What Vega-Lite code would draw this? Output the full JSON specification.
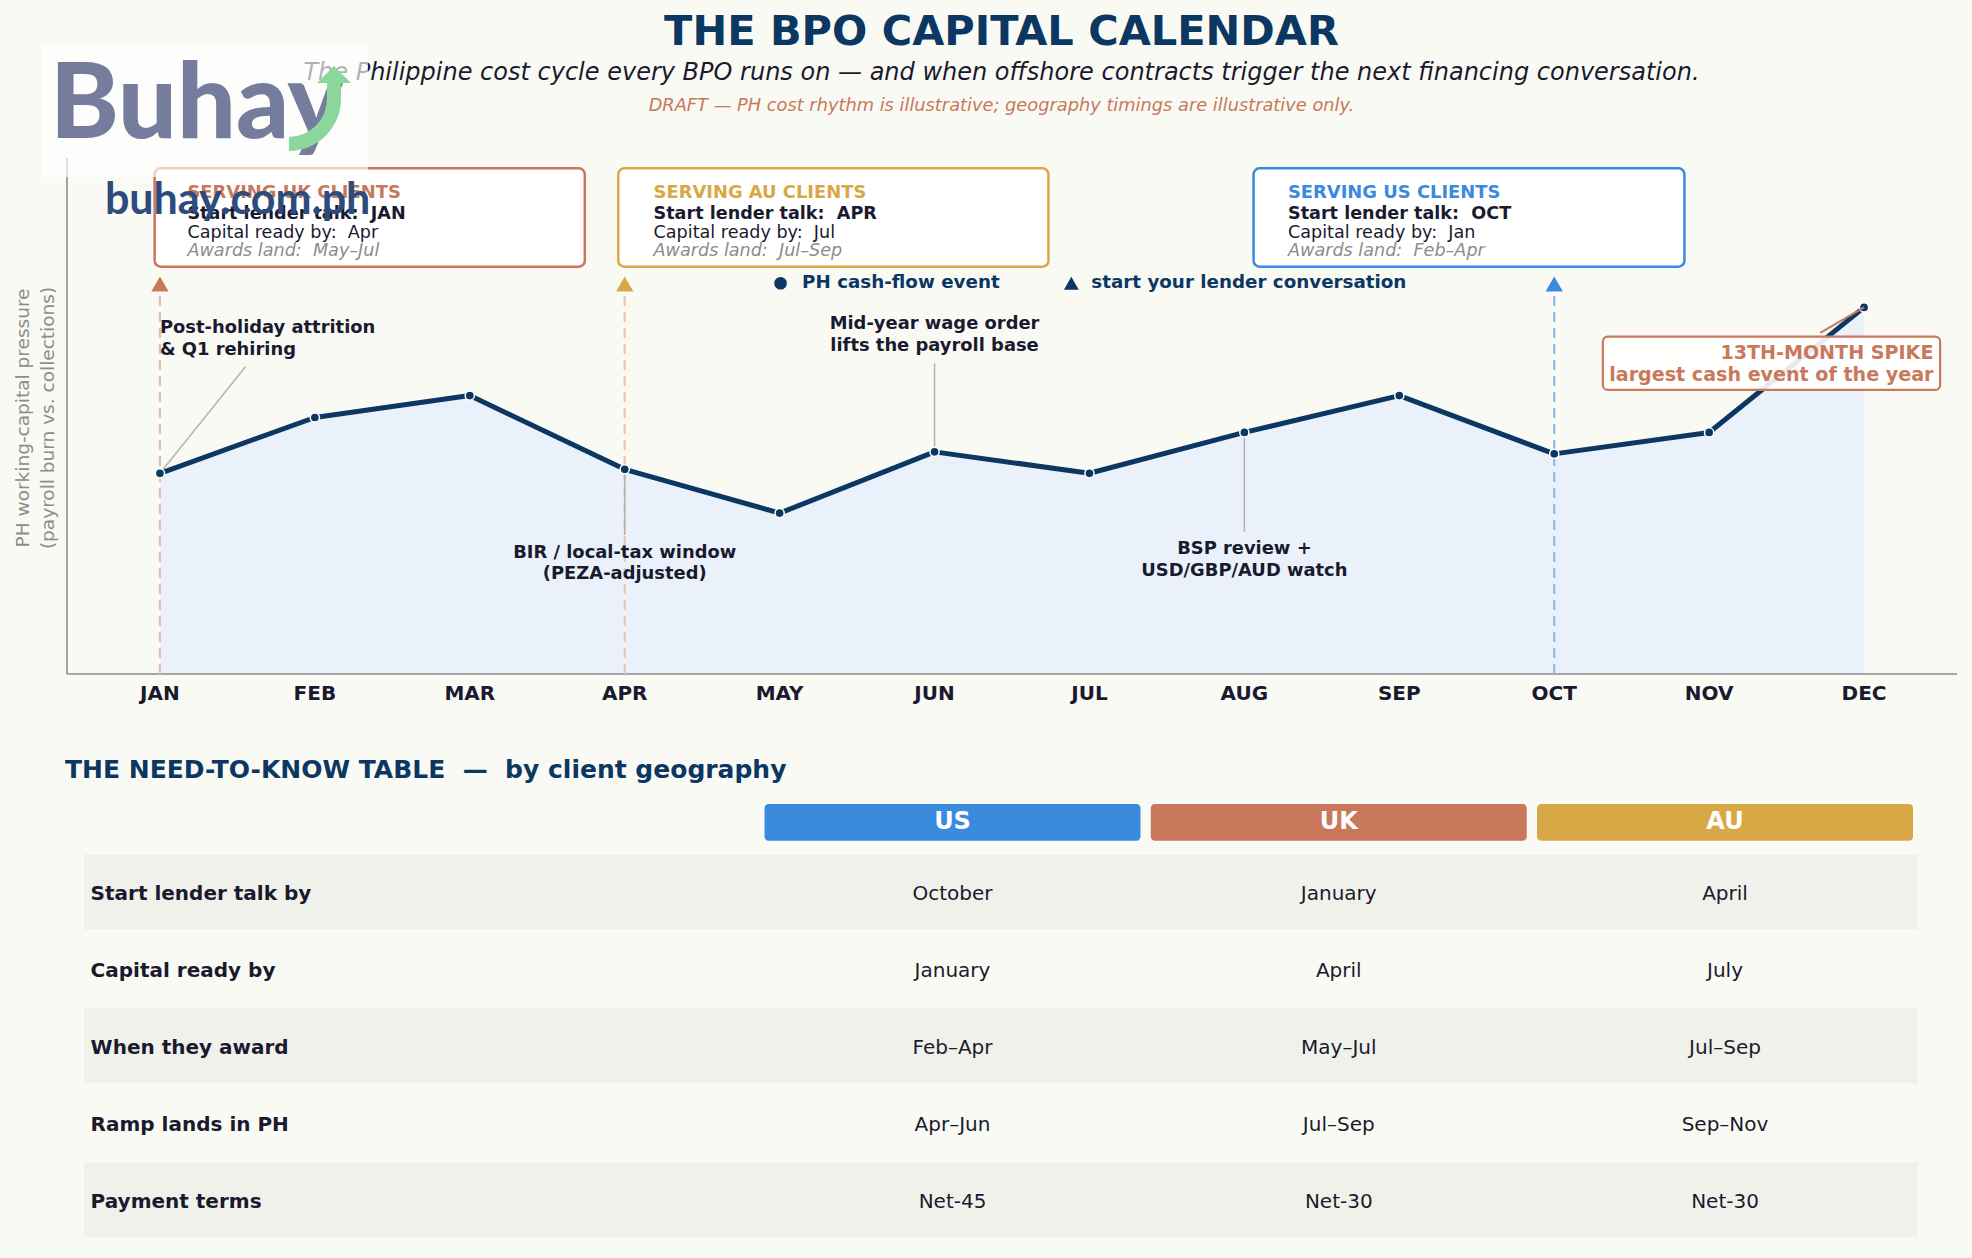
{
"$schema":"https://vega.github.io/schema/vega-lite/v6.json",
"width":1890,"height":516,
"autosize":{"type":"none"},
"padding":{"left":67,"top":158,"right":15,"bottom":584},
"background":"#fafaf5",
"config":{"view":{"stroke":null},"font":"DejaVu Sans","text":{"font":"DejaVu Sans"}},
"datasets":{
 "months":[{"mon":"JAN","m":1,"v":40.3},{"mon":"FEB","m":2,"v":51.5},{"mon":"MAR","m":3,"v":55.9},{"mon":"APR","m":4,"v":41.1},{"mon":"MAY","m":5,"v":32.3},{"mon":"JUN","m":6,"v":44.6},{"mon":"JUL","m":7,"v":40.3},{"mon":"AUG","m":8,"v":48.5},{"mon":"SEP","m":9,"v":55.9},{"mon":"OCT","m":10,"v":44.2},{"mon":"NOV","m":11,"v":48.5},{"mon":"DEC","m":12,"v":73.6}],
 "lender":[{"geo":"UK","mon":"JAN","m":1},{"geo":"AU","mon":"APR","m":4},{"geo":"US","mon":"OCT","m":10}],
 "table":[
  {"n":1,"item":"Start lender talk by","US":"October","UK":"January","AU":"April"},
  {"n":2,"item":"Capital ready by","US":"January","UK":"April","AU":"July"},
  {"n":3,"item":"When they award","US":"Feb–Apr","UK":"May–Jul","AU":"Jul–Sep"},
  {"n":4,"item":"Ramp lands in PH","US":"Apr–Jun","UK":"Jul–Sep","AU":"Sep–Nov"},
  {"n":5,"item":"Payment terms","US":"Net-45","UK":"Net-30","AU":"Net-30"}],
 "geos":[{"geo":"US","c":1},{"geo":"UK","c":2},{"geo":"AU","c":3}]
},
"data":{"values":[{}]},
"layer":[
 {"layer":[
  {"data":{"name":"months"},"mark":{"type":"area","color":"#eaf1fa","opacity":1},
   "encoding":{
    "x":{"field":"m","type":"quantitative","scale":{"domain":[0.4,12.6],"nice":false,"zero":false},"axis":null},
    "y":{"field":"v","type":"quantitative","scale":{"domain":[0,103.6],"nice":false,"zero":false},"axis":null}}},
  {"mark":{"type":"rule","color":"#8c8c8c","strokeWidth":1.6},"encoding":{"x":{"datum":0.4,"type":"quantitative","scale":{"domain":[0.4,12.6],"nice":false,"zero":false},"axis":null},"x2":{"datum":12.6},"y":{"datum":0,"type":"quantitative","scale":{"domain":[0,103.6],"nice":false,"zero":false},"axis":null}}},
  {"mark":{"type":"rule","color":"#8c8c8c","strokeWidth":1.6},"encoding":{"x":{"datum":0.4,"type":"quantitative","scale":{"domain":[0.4,12.6],"nice":false,"zero":false},"axis":null},"y":{"datum":0,"type":"quantitative","scale":{"domain":[0,103.6],"nice":false,"zero":false},"axis":null},"y2":{"datum":103.6}}},
  {"data":{"name":"months"},"mark":{"type":"text","align":"center","baseline":"middle","fontSize":20,"fontWeight":"bold","color":"#1a1a2e"},
   "encoding":{"x":{"field":"m","type":"quantitative","scale":{"domain":[0.4,12.6],"nice":false,"zero":false},"axis":null},"y":{"datum":-4.0,"type":"quantitative","scale":{"domain":[0,103.6],"nice":false,"zero":false},"axis":null},"text":{"field":"mon"}}},
  {"mark":{"type":"text","text":"PH working-capital pressure","angle":270,"align":"center","baseline":"middle","fontSize":18.5,"color":"#8c8c8c"},"encoding":{"x":{"datum":0.113,"type":"quantitative","scale":{"domain":[0.4,12.6],"nice":false,"zero":false},"axis":null},"y":{"datum":51.4,"type":"quantitative","scale":{"domain":[0,103.6],"nice":false,"zero":false},"axis":null}}},
  {"mark":{"type":"text","text":"(payroll burn vs. collections)","angle":270,"align":"center","baseline":"middle","fontSize":18.5,"color":"#8c8c8c"},"encoding":{"x":{"datum":0.2757,"type":"quantitative","scale":{"domain":[0.4,12.6],"nice":false,"zero":false},"axis":null},"y":{"datum":51.4,"type":"quantitative","scale":{"domain":[0,103.6],"nice":false,"zero":false},"axis":null}}},
  {"data":{"name":"lender"},"mark":{"type":"rule","strokeDash":[10,6],"strokeWidth":2.2},
   "encoding":{"x":{"field":"m","type":"quantitative","scale":{"domain":[0.4,12.6],"nice":false,"zero":false},"axis":null},
    "y":{"datum":0,"type":"quantitative","scale":{"domain":[0,103.6],"nice":false,"zero":false},"axis":null},"y2":{"datum":76.1},
    "stroke":{"field":"geo","type":"nominal","scale":{"domain":["US","UK","AU"],"range":["#8fbbea","#e9bba6","#ebc6a8"]},"legend":null}}},
  {"mark":{"type":"rule","color":"#b3b3b3","strokeWidth":1.5},"encoding":{"x":{"datum":1.552,"type":"quantitative","scale":{"domain":[0.4,12.6],"nice":false,"zero":false},"axis":null},"x2":{"datum":1.0},"y":{"datum":61.7,"type":"quantitative","scale":{"domain":[0,103.6],"nice":false,"zero":false},"axis":null},"y2":{"datum":40.3}}},
  {"mark":{"type":"rule","color":"#b3b3b3","strokeWidth":1.5},"encoding":{"x":{"datum":6,"type":"quantitative","scale":{"domain":[0.4,12.6],"nice":false,"zero":false},"axis":null},"y":{"datum":62.39,"type":"quantitative","scale":{"domain":[0,103.6],"nice":false,"zero":false},"axis":null},"y2":{"datum":44.6}}},
  {"mark":{"type":"rule","color":"#b3b3b3","strokeWidth":1.5},"encoding":{"x":{"datum":4,"type":"quantitative","scale":{"domain":[0.4,12.6],"nice":false,"zero":false},"axis":null},"y":{"datum":41.1,"type":"quantitative","scale":{"domain":[0,103.6],"nice":false,"zero":false},"axis":null},"y2":{"datum":27.9}}},
  {"mark":{"type":"rule","color":"#b3b3b3","strokeWidth":1.5},"encoding":{"x":{"datum":8,"type":"quantitative","scale":{"domain":[0.4,12.6],"nice":false,"zero":false},"axis":null},"y":{"datum":48.5,"type":"quantitative","scale":{"domain":[0,103.6],"nice":false,"zero":false},"axis":null},"y2":{"datum":28.57}}},
  {"data":{"name":"months"},"mark":{"type":"line","color":"#0c3762","strokeWidth":5,"strokeJoin":"round"},
   "encoding":{"x":{"field":"m","type":"quantitative","scale":{"domain":[0.4,12.6],"nice":false,"zero":false},"axis":null},"y":{"field":"v","type":"quantitative","scale":{"domain":[0,103.6],"nice":false,"zero":false},"axis":null}}},
  {"data":{"name":"months"},"mark":{"type":"point","shape":"circle","filled":true,"color":"#0c3762","stroke":"#ffffff","strokeWidth":1.5,"size":85,"opacity":1},
   "encoding":{"x":{"field":"m","type":"quantitative","scale":{"domain":[0.4,12.6],"nice":false,"zero":false},"axis":null},"y":{"field":"v","type":"quantitative","scale":{"domain":[0,103.6],"nice":false,"zero":false},"axis":null}}},
  {"data":{"name":"lender"},"mark":{"type":"point","shape":"triangle-up","filled":true,"size":300,"opacity":1},
   "encoding":{"x":{"field":"m","type":"quantitative","scale":{"domain":[0.4,12.6],"nice":false,"zero":false},"axis":null},"y":{"datum":78.3,"type":"quantitative","scale":{"domain":[0,103.6],"nice":false,"zero":false},"axis":null},
    "color":{"field":"geo","type":"nominal","scale":{"domain":["US","UK","AU"],"range":["#3a8ade","#c9785c","#d9a846"]},"legend":null}}},
  {"layer":[
   {"mark":{"type":"rect","fill":"#ffffff","stroke":"#c9785c","strokeWidth":2.5,"cornerRadius":6},"encoding":{"x":{"datum":0.9658,"type":"quantitative","scale":{"domain":[0.4,12.6],"nice":false,"zero":false},"axis":null},"x2":{"datum":3.7424},"y":{"datum":101.53,"type":"quantitative","scale":{"domain":[0,103.6],"nice":false,"zero":false},"axis":null},"y2":{"datum":81.79}}},
   {"mark":{"type":"text","text":"SERVING UK CLIENTS","align":"left","baseline":"middle","fontSize":17.9,"fontWeight":"bold","color":"#c9785c"},"encoding":{"x":{"datum":1.1775,"type":"quantitative","scale":{"domain":[0.4,12.6],"nice":false,"zero":false},"axis":null},"y":{"datum":96.6,"type":"quantitative","scale":{"domain":[0,103.6],"nice":false,"zero":false},"axis":null}}},
   {"mark":{"type":"text","text":"Start lender talk:\u00a0 JAN","align":"left","baseline":"middle","fontSize":17.6,"fontWeight":"bold","color":"#1a1a2e"},"encoding":{"x":{"datum":1.1775,"type":"quantitative","scale":{"domain":[0.4,12.6],"nice":false,"zero":false},"axis":null},"y":{"datum":92.4,"type":"quantitative","scale":{"domain":[0,103.6],"nice":false,"zero":false},"axis":null}}},
   {"mark":{"type":"text","text":"Capital ready by:\u00a0 Apr","align":"left","baseline":"middle","fontSize":17.6,"color":"#1a1a2e"},"encoding":{"x":{"datum":1.1775,"type":"quantitative","scale":{"domain":[0.4,12.6],"nice":false,"zero":false},"axis":null},"y":{"datum":88.6,"type":"quantitative","scale":{"domain":[0,103.6],"nice":false,"zero":false},"axis":null}}},
   {"mark":{"type":"text","text":"Awards land:\u00a0 May–Jul","align":"left","baseline":"middle","fontSize":17.6,"fontStyle":"italic","color":"#8c8c8c"},"encoding":{"x":{"datum":1.1775,"type":"quantitative","scale":{"domain":[0.4,12.6],"nice":false,"zero":false},"axis":null},"y":{"datum":85.0,"type":"quantitative","scale":{"domain":[0,103.6],"nice":false,"zero":false},"axis":null}}}
  ]},
  {"layer":[
   {"mark":{"type":"rect","fill":"#ffffff","stroke":"#d9a846","strokeWidth":2.5,"cornerRadius":6},"encoding":{"x":{"datum":3.9587,"type":"quantitative","scale":{"domain":[0.4,12.6],"nice":false,"zero":false},"axis":null},"x2":{"datum":6.7353},"y":{"datum":101.53,"type":"quantitative","scale":{"domain":[0,103.6],"nice":false,"zero":false},"axis":null},"y2":{"datum":81.79}}},
   {"mark":{"type":"text","text":"SERVING AU CLIENTS","align":"left","baseline":"middle","fontSize":17.9,"fontWeight":"bold","color":"#d9a846"},"encoding":{"x":{"datum":4.186,"type":"quantitative","scale":{"domain":[0.4,12.6],"nice":false,"zero":false},"axis":null},"y":{"datum":96.6,"type":"quantitative","scale":{"domain":[0,103.6],"nice":false,"zero":false},"axis":null}}},
   {"mark":{"type":"text","text":"Start lender talk:\u00a0 APR","align":"left","baseline":"middle","fontSize":17.6,"fontWeight":"bold","color":"#1a1a2e"},"encoding":{"x":{"datum":4.186,"type":"quantitative","scale":{"domain":[0.4,12.6],"nice":false,"zero":false},"axis":null},"y":{"datum":92.4,"type":"quantitative","scale":{"domain":[0,103.6],"nice":false,"zero":false},"axis":null}}},
   {"mark":{"type":"text","text":"Capital ready by:\u00a0 Jul","align":"left","baseline":"middle","fontSize":17.6,"color":"#1a1a2e"},"encoding":{"x":{"datum":4.186,"type":"quantitative","scale":{"domain":[0.4,12.6],"nice":false,"zero":false},"axis":null},"y":{"datum":88.6,"type":"quantitative","scale":{"domain":[0,103.6],"nice":false,"zero":false},"axis":null}}},
   {"mark":{"type":"text","text":"Awards land:\u00a0 Jul–Sep","align":"left","baseline":"middle","fontSize":17.6,"fontStyle":"italic","color":"#8c8c8c"},"encoding":{"x":{"datum":4.186,"type":"quantitative","scale":{"domain":[0.4,12.6],"nice":false,"zero":false},"axis":null},"y":{"datum":85.0,"type":"quantitative","scale":{"domain":[0,103.6],"nice":false,"zero":false},"axis":null}}}
  ]},
  {"layer":[
   {"mark":{"type":"rect","fill":"#ffffff","stroke":"#3a8ade","strokeWidth":2.5,"cornerRadius":6},"encoding":{"x":{"datum":8.0594,"type":"quantitative","scale":{"domain":[0.4,12.6],"nice":false,"zero":false},"axis":null},"x2":{"datum":10.8406},"y":{"datum":101.53,"type":"quantitative","scale":{"domain":[0,103.6],"nice":false,"zero":false},"axis":null},"y2":{"datum":81.79}}},
   {"mark":{"type":"text","text":"SERVING US CLIENTS","align":"left","baseline":"middle","fontSize":17.9,"fontWeight":"bold","color":"#3a8ade"},"encoding":{"x":{"datum":8.2815,"type":"quantitative","scale":{"domain":[0.4,12.6],"nice":false,"zero":false},"axis":null},"y":{"datum":96.6,"type":"quantitative","scale":{"domain":[0,103.6],"nice":false,"zero":false},"axis":null}}},
   {"mark":{"type":"text","text":"Start lender talk:\u00a0 OCT","align":"left","baseline":"middle","fontSize":17.6,"fontWeight":"bold","color":"#1a1a2e"},"encoding":{"x":{"datum":8.2815,"type":"quantitative","scale":{"domain":[0.4,12.6],"nice":false,"zero":false},"axis":null},"y":{"datum":92.4,"type":"quantitative","scale":{"domain":[0,103.6],"nice":false,"zero":false},"axis":null}}},
   {"mark":{"type":"text","text":"Capital ready by:\u00a0 Jan","align":"left","baseline":"middle","fontSize":17.6,"color":"#1a1a2e"},"encoding":{"x":{"datum":8.2815,"type":"quantitative","scale":{"domain":[0.4,12.6],"nice":false,"zero":false},"axis":null},"y":{"datum":88.6,"type":"quantitative","scale":{"domain":[0,103.6],"nice":false,"zero":false},"axis":null}}},
   {"mark":{"type":"text","text":"Awards land:\u00a0 Feb–Apr","align":"left","baseline":"middle","fontSize":17.6,"fontStyle":"italic","color":"#8c8c8c"},"encoding":{"x":{"datum":8.2815,"type":"quantitative","scale":{"domain":[0.4,12.6],"nice":false,"zero":false},"axis":null},"y":{"datum":85.0,"type":"quantitative","scale":{"domain":[0,103.6],"nice":false,"zero":false},"axis":null}}}
  ]},
  {"mark":{"type":"point","shape":"circle","filled":true,"color":"#0c3762","size":160,"opacity":1},"encoding":{"x":{"datum":5.006,"type":"quantitative","scale":{"domain":[0.4,12.6],"nice":false,"zero":false},"axis":null},"y":{"datum":78.45,"type":"quantitative","scale":{"domain":[0,103.6],"nice":false,"zero":false},"axis":null}}},
  {"mark":{"type":"text","text":"PH cash-flow event","align":"left","baseline":"middle","fontSize":18.3,"fontWeight":"bold","color":"#0c3762"},"encoding":{"x":{"datum":5.145,"type":"quantitative","scale":{"domain":[0.4,12.6],"nice":false,"zero":false},"axis":null},"y":{"datum":78.45,"type":"quantitative","scale":{"domain":[0,103.6],"nice":false,"zero":false},"axis":null}}},
  {"mark":{"type":"point","shape":"triangle-up","filled":true,"color":"#0c3762","size":220,"opacity":1},"encoding":{"x":{"datum":6.883,"type":"quantitative","scale":{"domain":[0.4,12.6],"nice":false,"zero":false},"axis":null},"y":{"datum":78.45,"type":"quantitative","scale":{"domain":[0,103.6],"nice":false,"zero":false},"axis":null}}},
  {"mark":{"type":"text","text":"start your lender conversation","align":"left","baseline":"middle","fontSize":18.3,"fontWeight":"bold","color":"#0c3762"},"encoding":{"x":{"datum":7.012,"type":"quantitative","scale":{"domain":[0.4,12.6],"nice":false,"zero":false},"axis":null},"y":{"datum":78.45,"type":"quantitative","scale":{"domain":[0,103.6],"nice":false,"zero":false},"axis":null}}},
  {"mark":{"type":"text","text":["Post-holiday attrition","& Q1 rehiring"],"align":"left","baseline":"middle","lineHeight":21.7,"fontSize":17.9,"fontWeight":"bold","color":"#1a1a2e"},"encoding":{"x":{"datum":1.0,"type":"quantitative","scale":{"domain":[0.4,12.6],"nice":false,"zero":false},"axis":null},"y":{"datum":69.5,"type":"quantitative","scale":{"domain":[0,103.6],"nice":false,"zero":false},"axis":null}}},
  {"mark":{"type":"text","text":["Mid-year wage order","lifts the payroll base"],"align":"center","baseline":"middle","lineHeight":21.5,"fontSize":17.9,"fontWeight":"bold","color":"#1a1a2e"},"encoding":{"x":{"datum":6.0,"type":"quantitative","scale":{"domain":[0.4,12.6],"nice":false,"zero":false},"axis":null},"y":{"datum":70.22,"type":"quantitative","scale":{"domain":[0,103.6],"nice":false,"zero":false},"axis":null}}},
  {"mark":{"type":"text","text":["BIR / local-tax window","(PEZA-adjusted)"],"align":"center","baseline":"middle","lineHeight":21,"fontSize":17.9,"fontWeight":"bold","color":"#1a1a2e"},"encoding":{"x":{"datum":4.0,"type":"quantitative","scale":{"domain":[0.4,12.6],"nice":false,"zero":false},"axis":null},"y":{"datum":24.24,"type":"quantitative","scale":{"domain":[0,103.6],"nice":false,"zero":false},"axis":null}}},
  {"mark":{"type":"text","text":["BSP review +","USD/GBP/AUD watch"],"align":"center","baseline":"middle","lineHeight":21.4,"fontSize":17.9,"fontWeight":"bold","color":"#1a1a2e"},"encoding":{"x":{"datum":8.0,"type":"quantitative","scale":{"domain":[0.4,12.6],"nice":false,"zero":false},"axis":null},"y":{"datum":25.04,"type":"quantitative","scale":{"domain":[0,103.6],"nice":false,"zero":false},"axis":null}}},
  {"mark":{"type":"rule","color":"#c9785c","strokeWidth":2},"encoding":{"x":{"datum":11.717,"type":"quantitative","scale":{"domain":[0.4,12.6],"nice":false,"zero":false},"axis":null},"x2":{"datum":12.0},"y":{"datum":68.47,"type":"quantitative","scale":{"domain":[0,103.6],"nice":false,"zero":false},"axis":null},"y2":{"datum":73.6}}},
  {"mark":{"type":"rect","fill":"#ffffff","fillOpacity":0.9,"stroke":"#c9785c","strokeWidth":2.2,"cornerRadius":5},"encoding":{"x":{"datum":10.314,"type":"quantitative","scale":{"domain":[0.4,12.6],"nice":false,"zero":false},"axis":null},"x2":{"datum":12.491},"y":{"datum":67.73,"type":"quantitative","scale":{"domain":[0,103.6],"nice":false,"zero":false},"axis":null},"y2":{"datum":57.03}}},
  {"mark":{"type":"text","text":["13TH-MONTH SPIKE","largest cash event of the year"],"align":"right","baseline":"middle","lineHeight":22.6,"fontSize":19.1,"fontWeight":"bold","color":"#c9785c"},"encoding":{"x":{"datum":12.448,"type":"quantitative","scale":{"domain":[0.4,12.6],"nice":false,"zero":false},"axis":null},"y":{"datum":64.5,"type":"quantitative","scale":{"domain":[0,103.6],"nice":false,"zero":false},"axis":null}}},
  {"mark":{"type":"text","text":"THE BPO CAPITAL CALENDAR","align":"center","baseline":"middle","fontSize":41.5,"fontWeight":"bold","color":"#0c3762"},"encoding":{"x":{"datum":6.432,"type":"quantitative","scale":{"domain":[0.4,12.6],"nice":false,"zero":false},"axis":null},"y":{"datum":128.7,"type":"quantitative","scale":{"domain":[0,103.6],"nice":false,"zero":false},"axis":null}}},
  {"mark":{"type":"text","text":"The Philippine cost cycle every BPO runs on — and when offshore contracts trigger the next financing conversation.","align":"center","baseline":"middle","fontSize":24,"fontStyle":"italic","color":"#1a1a2e"},"encoding":{"x":{"datum":6.432,"type":"quantitative","scale":{"domain":[0.4,12.6],"nice":false,"zero":false},"axis":null},"y":{"datum":120.6,"type":"quantitative","scale":{"domain":[0,103.6],"nice":false,"zero":false},"axis":null}}},
  {"mark":{"type":"text","text":"DRAFT — PH cost rhythm is illustrative; geography timings are illustrative only.","align":"center","baseline":"middle","fontSize":17.8,"fontStyle":"italic","color":"#c8785a"},"encoding":{"x":{"datum":6.432,"type":"quantitative","scale":{"domain":[0.4,12.6],"nice":false,"zero":false},"axis":null},"y":{"datum":114.1,"type":"quantitative","scale":{"domain":[0,103.6],"nice":false,"zero":false},"axis":null}}},
  {"mark":{"type":"rect","fill":"#ffffff","opacity":0.65,"strokeWidth":0},"encoding":{"x":{"datum":0.238,"type":"quantitative","scale":{"domain":[0.4,12.6],"nice":false,"zero":false},"axis":null},"x2":{"datum":2.343},"y":{"datum":126.7,"type":"quantitative","scale":{"domain":[0,103.6],"nice":false,"zero":false},"axis":null},"y2":{"datum":99.8}}},
  {"mark":{"type":"text","text":"Buhay","align":"left","baseline":"alphabetic","font":"Lato","fontSize":104,"fontWeight":900,"color":"#767c9c"},"encoding":{"x":{"datum":0.29,"type":"quantitative","scale":{"domain":[0.4,12.6],"nice":false,"zero":false},"axis":null},"y":{"datum":107.6,"type":"quantitative","scale":{"domain":[0,103.6],"nice":false,"zero":false},"axis":null}}},
  {"mark":{"type":"arc","theta":1.5708,"theta2":3.1416,"innerRadius":38,"outerRadius":52,"color":"#8bd69b"},"encoding":{"x":{"datum":1.8328,"type":"quantitative","scale":{"domain":[0.4,12.6],"nice":false,"zero":false},"axis":null},"y":{"datum":115.46,"type":"quantitative","scale":{"domain":[0,103.6],"nice":false,"zero":false},"axis":null}}},
  {"mark":{"type":"rect","color":"#8bd69b"},"encoding":{"x":{"datum":2.0781,"type":"quantitative","scale":{"domain":[0.4,12.6],"nice":false,"zero":false},"axis":null},"x2":{"datum":2.1685},"y":{"datum":118.88,"type":"quantitative","scale":{"domain":[0,103.6],"nice":false,"zero":false},"axis":null},"y2":{"datum":115.26}}},
  {"mark":{"type":"point","shape":"M-1,0.5L1,0.5L0,-0.5Z","filled":true,"color":"#8bd69b","size":1156,"opacity":1},"encoding":{"x":{"datum":2.1233,"type":"quantitative","scale":{"domain":[0.4,12.6],"nice":false,"zero":false},"axis":null},"y":{"datum":120.38,"type":"quantitative","scale":{"domain":[0,103.6],"nice":false,"zero":false},"axis":null}}},
  {"mark":{"type":"text","text":"buhay.com.ph","align":"left","baseline":"alphabetic","font":"Lato","fontSize":43,"fontWeight":"bold","color":"#2e4b7d"},"encoding":{"x":{"datum":0.645,"type":"quantitative","scale":{"domain":[0.4,12.6],"nice":false,"zero":false},"axis":null},"y":{"datum":92.3,"type":"quantitative","scale":{"domain":[0,103.6],"nice":false,"zero":false},"axis":null}}}
 ]},
 {"data":{"name":"table"},"layer":[
  {"transform":[{"filter":"datum.n % 2 == 1"}],"mark":{"type":"rule","color":"#f1f1eb","strokeWidth":75,"strokeCap":"butt","yOffset":-2},
   "encoding":{"x":{"datum":-1.2485,"type":"quantitative","scale":{"domain":[-1.2926,3.6006],"nice":false,"zero":false},"axis":null},"x2":{"datum":3.4994},
    "y":{"field":"n","type":"quantitative","scale":{"domain":[-8.571,-1.861],"nice":false,"zero":false,"reverse":true},"axis":null}}},
  {"mark":{"type":"text","align":"left","baseline":"middle","fontSize":20,"fontWeight":"bold","color":"#1a1a2e"},
   "encoding":{"x":{"datum":-1.2315,"type":"quantitative","scale":{"domain":[-1.2926,3.6006],"nice":false,"zero":false},"axis":null},
    "y":{"field":"n","type":"quantitative","scale":{"domain":[-8.571,-1.861],"nice":false,"zero":false,"reverse":true},"axis":null},"text":{"field":"item"}}},
  {"mark":{"type":"text","align":"center","baseline":"middle","fontSize":20,"color":"#1a1a2e"},
   "encoding":{"x":{"datum":1,"type":"quantitative","scale":{"domain":[-1.2926,3.6006],"nice":false,"zero":false},"axis":null},
    "y":{"field":"n","type":"quantitative","scale":{"domain":[-8.571,-1.861],"nice":false,"zero":false,"reverse":true},"axis":null},"text":{"field":"US"}}},
  {"mark":{"type":"text","align":"center","baseline":"middle","fontSize":20,"color":"#1a1a2e"},
   "encoding":{"x":{"datum":2,"type":"quantitative","scale":{"domain":[-1.2926,3.6006],"nice":false,"zero":false},"axis":null},
    "y":{"field":"n","type":"quantitative","scale":{"domain":[-8.571,-1.861],"nice":false,"zero":false,"reverse":true},"axis":null},"text":{"field":"UK"}}},
  {"mark":{"type":"text","align":"center","baseline":"middle","fontSize":20,"color":"#1a1a2e"},
   "encoding":{"x":{"datum":3,"type":"quantitative","scale":{"domain":[-1.2926,3.6006],"nice":false,"zero":false},"axis":null},
    "y":{"field":"n","type":"quantitative","scale":{"domain":[-8.571,-1.861],"nice":false,"zero":false,"reverse":true},"axis":null},"text":{"field":"AU"}}},
  {"data":{"name":"geos"},"mark":{"type":"rect","cornerRadius":4,"xOffset":-188,"x2Offset":188},
   "encoding":{"x":{"field":"c","type":"quantitative","scale":{"domain":[-1.2926,3.6006],"nice":false,"zero":false},"axis":null},"x2":{"field":"c"},
    "y":{"datum":-0.17,"type":"quantitative","scale":{"domain":[-8.571,-1.861],"nice":false,"zero":false,"reverse":true},"axis":null},"y2":{"datum":0.307},
    "color":{"field":"geo","type":"nominal","scale":{"domain":["US","UK","AU"],"range":["#3a8ade","#c9785c","#d9a846"]},"legend":null}}},
  {"data":{"name":"geos"},"mark":{"type":"text","align":"center","baseline":"middle","fontSize":24,"fontWeight":"bold","color":"#ffffff"},
   "encoding":{"x":{"field":"c","type":"quantitative","scale":{"domain":[-1.2926,3.6006],"nice":false,"zero":false},"axis":null},
    "y":{"datum":0.061,"type":"quantitative","scale":{"domain":[-8.571,-1.861],"nice":false,"zero":false,"reverse":true},"axis":null},"text":{"field":"geo"}}},
  {"data":{"values":[{}]},"mark":{"type":"text","text":"THE NEED-TO-KNOW TABLE\u00a0 —\u00a0 by client geography","align":"left","baseline":"middle","fontSize":25,"fontWeight":"bold","color":"#0c3762"},
   "encoding":{"x":{"datum":-1.2977,"type":"quantitative","scale":{"domain":[-1.2926,3.6006],"nice":false,"zero":false},"axis":null},
    "y":{"datum":-0.612,"type":"quantitative","scale":{"domain":[-8.571,-1.861],"nice":false,"zero":false,"reverse":true},"axis":null}}}
 ]}
],
"resolve":{"scale":{"x":"independent","y":"independent"}}
}
